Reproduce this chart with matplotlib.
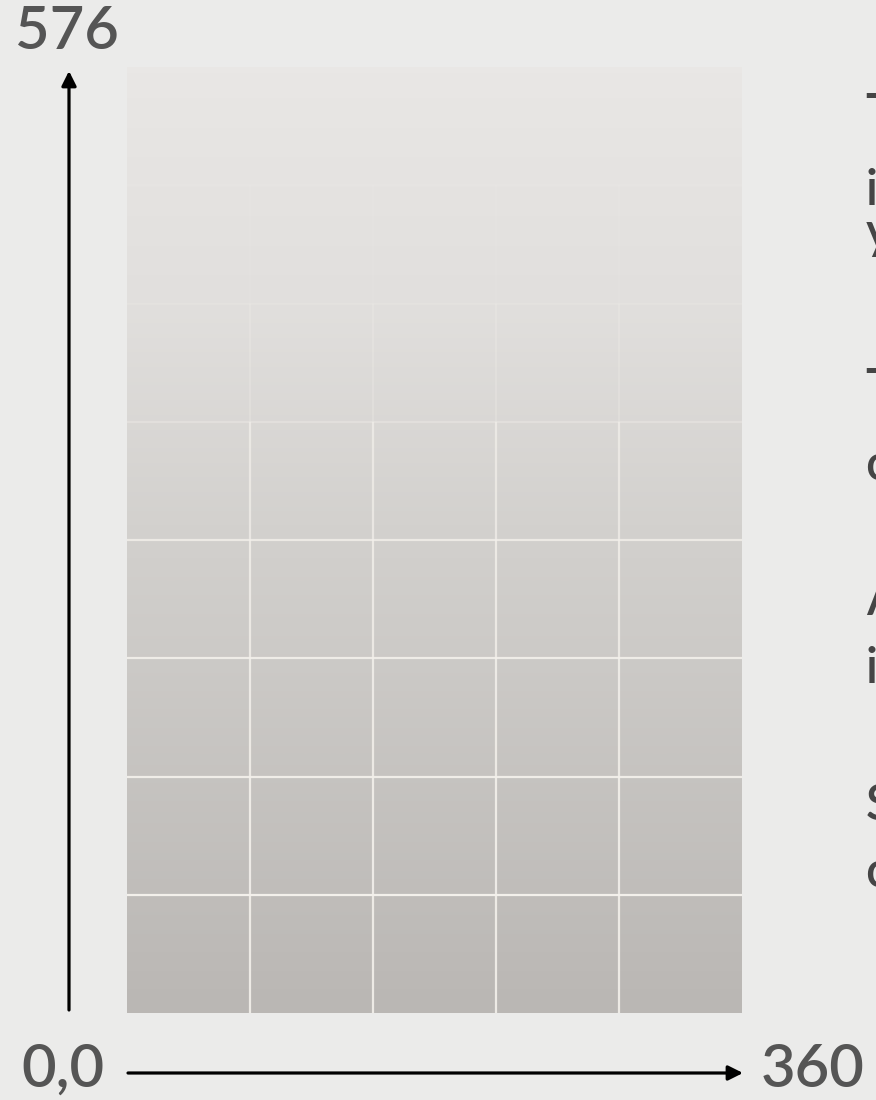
import matplotlib
matplotlib.use("Agg")
import matplotlib.pyplot as plt
import numpy as np
from matplotlib.colors import LinearSegmentedColormap
from matplotlib.patches import FancyArrowPatch

# page size in points and the grid step
page_w = 360
page_h = 576
grid_step = 72

# corner labels
label_origin = "0,0"
label_width = "360"
label_height = "576"

# side notes (cut off by the right edge, as in the original)
note_lines = ["The gradient", "is 360 \u00d7 576", "you see here",
              "The grid", "cells are 72 pt",
              "A 5 \u00d7 8 grid", "in points",
              "Square cells", "cells of 72"]
note_y_px = [128, 205, 248, 403, 480, 615, 683, 820, 887]

W, H = 876, 1100
plt.rcParams['font.family'] = ['Lato', 'DejaVu Sans']

fig = plt.figure(figsize=(W / 100, H / 100), dpi=100)
fig.patch.set_facecolor('#ebebea')


def fx(px):
    return px / W


def fy(py):
    return 1 - py / H


# page area
ax = fig.add_axes([fx(127), fy(1013), 615 / W, 946 / H])
ax.set_xlim(0, page_w)
ax.set_ylim(0, page_h)
ax.axis('off')

cmap = LinearSegmentedColormap.from_list(
    'paper', [(0, '#bab7b4'), (0.5, '#d2d0cd'), (0.75, '#e1dfdd'), (1, '#e9e7e5')])
grad = np.linspace(0, 1, 256).reshape(-1, 1)
ax.imshow(grad, cmap=cmap, extent=(0, page_w, 0, page_h), origin='lower',
          aspect='auto', interpolation='bicubic')

# grid fades out toward the top
xs = np.arange(grid_step, page_w, grid_step)
ys = np.arange(grid_step, page_h, grid_step)
n_rows = page_h // grid_step
fade = [0.9, 0.9, 0.85, 0.8, 0.7, 0.25, 0.1, 0.04]
for j in range(n_rows):
    y0, y1 = j * grid_step, (j + 1) * grid_step
    for x in xs:
        ax.plot([x, x], [y0, y1], color='#f3f0eb', lw=1.6, alpha=fade[j],
                solid_capstyle='butt')
for j, y in enumerate(ys):
    ax.plot([0, page_w], [y, y], color='#f3f0eb', lw=1.6,
            alpha=fade[j + 1] + 0.1 if j + 1 < len(fade) else 0.1)

# axis arrows
arr_kw = dict(arrowstyle='-|>', mutation_scale=22, color='black', lw=2.3,
              transform=fig.transFigure, shrinkA=0, shrinkB=0)
fig.add_artist(FancyArrowPatch((fx(69), fy(1010)), (fx(69), fy(71)), **arr_kw))
fig.add_artist(FancyArrowPatch((fx(128), fy(1073)), (fx(743), fy(1073)), **arr_kw))

lbl_kw = dict(fontsize=43, color='#555555', fontweight='semibold',
              transform=fig.transFigure)
fig.text(fx(67), fy(32), label_height, ha='center', va='center', **lbl_kw)
fig.text(fx(63), fy(1070), label_origin, ha='center', va='center', **lbl_kw)
fig.text(fx(813), fy(1070), label_width, ha='center', va='center', **lbl_kw)

for line, py in zip(note_lines, note_y_px):
    fig.text(fx(866), fy(py), line, ha='left', va='baseline', fontsize=35,
             color='#454545', fontweight='semibold')

fig.savefig('out.png', dpi=100, facecolor=fig.get_facecolor())
